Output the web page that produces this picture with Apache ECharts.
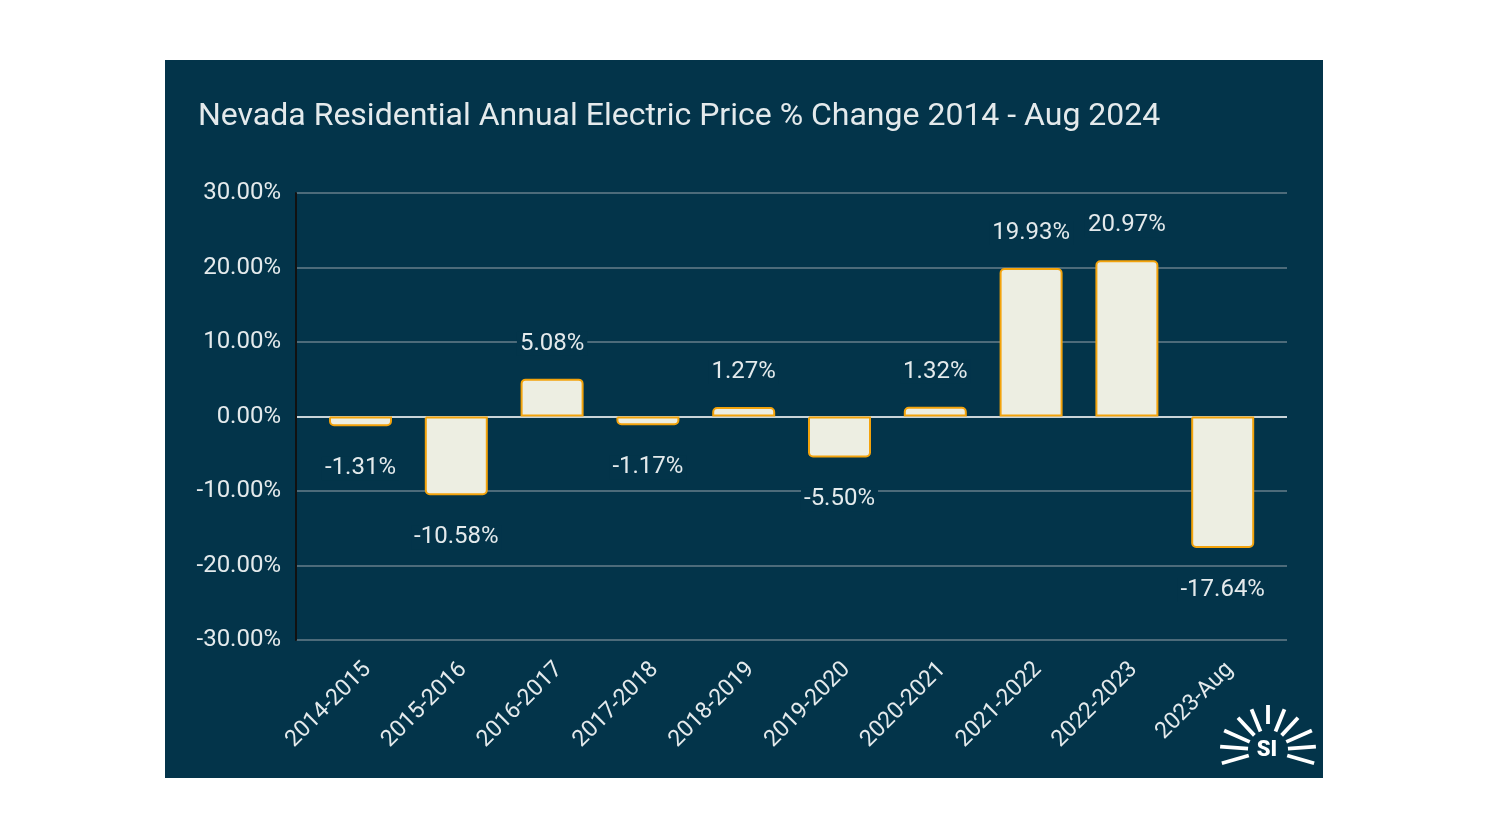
<!DOCTYPE html>
<html>
<head>
<meta charset="utf-8">
<script src="https://cdn.jsdelivr.net/npm/echarts@6/dist/echarts.min.js"></script>
<style>
html,body{margin:0;padding:0;background:#ffffff;}
#chart{width:1488px;height:837px;}
</style>
</head>
<body>
<div id="chart"></div>
<script>
const titleText = 'Nevada Residential Annual Electric Price % Change 2014 - Aug 2024';
const categories = ['2014-2015','2015-2016','2016-2017','2017-2018','2018-2019','2019-2020','2020-2021','2021-2022','2022-2023','2023-Aug'];
const pctChange = [-1.31, -10.58, 5.08, -1.17, 1.27, -5.50, 1.32, 19.93, 20.97, -17.64];
const yTicks = [-30, -20, -10, 0, 10, 20, 30];

const BG = '#03344a';
const FONT = 'Roboto';
const TXT = '#e4eaec';

const chart = echarts.init(document.getElementById('chart'));

const barData = pctChange.map(v => ({
  value: v,
  itemStyle: { borderRadius: v >= 0 ? [4,4,0,0] : [0,0,4,4] },
  label: { position: v >= 0 ? 'top' : 'bottom', distance: v >= 0 ? 23 : 30 }
}));

// logo rays
const cx = 1268, cy = 750;
const rayAngles = [90, 68, 47, 24, 4, -16, 112, 133, 156, 176, 196];
const rays = rayAngles.map(a => {
  const r0 = a === 90 ? 26 : 20, r1 = a === 90 ? 45 : (Math.abs(Math.sin(a*Math.PI/180)) < 0.45 ? 48 : 44);
  const t = a * Math.PI / 180;
  return {
    type: 'line',
    shape: { x1: cx + r0*Math.cos(t), y1: cy - r0*Math.sin(t), x2: cx + r1*Math.cos(t), y2: cy - r1*Math.sin(t) },
    style: { stroke: '#ffffff', lineWidth: 3.8, lineCap: 'butt' },
    silent: true
  };
});

const yBase = { type: 'value', min: yTicks[0], max: yTicks[yTicks.length-1], interval: 10 };

const option = {
  backgroundColor: '#ffffff',
  animation: false,
  graphic: [
    { type: 'rect', shape: { x: 165, y: 60, width: 1158, height: 718 }, style: { fill: BG }, z: -10, silent: true },
    { type: 'text', left: 198, top: 101, style: { text: titleText, fill: TXT, font: '32px ' + FONT }, z: 10 },
    { type: 'text', x: cx - 1, y: cy, style: { text: 'SI', fill: '#ffffff', font: '900 22px ' + FONT, align: 'center', verticalAlign: 'middle' }, z: 10 }
  ].concat(rays),
  grid: [
    { left: 296, right: 201, top: 193, bottom: 197 },
    { left: 312.6, right: 217.4, top: 193, bottom: 197 },
    { left: 319.6, right: 210.4, top: 193, bottom: 197 }
  ],
  xAxis: [
    { type: 'category', gridIndex: 0, data: categories, show: false },
    { type: 'category', gridIndex: 1, data: categories, show: false },
    {
      type: 'category', gridIndex: 2, data: categories,
      axisLine: { show: false }, axisTick: { show: false },
      axisLabel: { rotate: 45, color: TXT, fontFamily: FONT, fontSize: 23, margin: 26, interval: 0 }
    }
  ],
  yAxis: [
    Object.assign({}, yBase, {
      gridIndex: 0,
      axisLine: { show: true, lineStyle: { color: '#111111', width: 2 } },
      axisTick: { show: false },
      axisLabel: { color: TXT, fontFamily: FONT, fontSize: 24, margin: 15, padding: [4, 0, 0, 0], formatter: v => v.toFixed(2) + '%' },
      splitLine: { show: true, lineStyle: { color: ['#4d6b7a','#4d6b7a','#4d6b7a','#c9d4d9','#4d6b7a','#4d6b7a','#4d6b7a'], width: 2 } }
    }),
    Object.assign({}, yBase, { gridIndex: 1, show: false, splitLine: { show: false } }),
    Object.assign({}, yBase, { gridIndex: 2, show: false, splitLine: { show: false } })
  ],
  series: [{
    type: 'bar',
    xAxisIndex: 1, yAxisIndex: 1,
    data: barData,
    barWidth: 63,
    itemStyle: { color: '#edeee2', borderColor: '#f3a30c', borderWidth: 2 },
    label: {
      show: true, color: TXT, fontFamily: FONT, fontSize: 24,
      backgroundColor: BG, padding: [0, 3],
      formatter: p => p.value.toFixed(2) + '%'
    },
    z: 5
  }]
};
chart.setOption(option);
</script>
</body>
</html>
